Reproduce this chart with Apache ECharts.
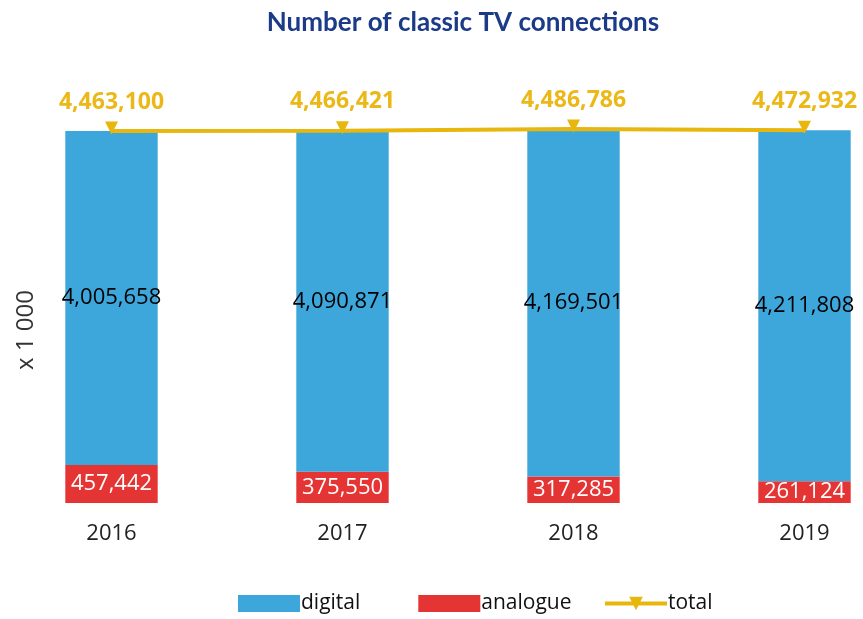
<!DOCTYPE html>
<html>
<head>
<meta charset="utf-8">
<script src="https://cdn.jsdelivr.net/npm/echarts@6/dist/echarts.min.js"></script>
<style>
  html, body { margin: 0; padding: 0; background: #fff; }
  #chart { width: 863px; height: 619px; }
</style>
</head>
<body>
<div id="chart"></div>
<script>
const years = ['2016', '2017', '2018', '2019'];
const digital = [4005658, 4090871, 4169501, 4211808];
const analogue = [457442, 375550, 317285, 261124];
const total = [4463100, 4466421, 4486786, 4472932];

const fmt = v => v.toLocaleString('en-US');
const font = '"Open Sans", "Noto Sans", sans-serif';
const legendText = {fontSize: 21, color: '#111', fontFamily: font, padding: [0, 0, 0, -4]};

let chart = echarts.init(document.getElementById('chart'));
chart.setOption({
  animation: false,
  title: {
    text: 'Number of classic TV connections',
    left: 458,
    textAlign: 'center',
    top: 5,
    textStyle: {color: '#1B3A87', fontSize: 26, fontWeight: 'bold', fontFamily: 'Lato, sans-serif'}
  },
  graphic: [{
    type: 'text',
    left: 14,
    top: 290,
    rotation: Math.PI / 2,
    style: {text: 'x 1 000', fill: '#333', font: '24px ' + font}
  }],
  legend: [{
    bottom: 0,
    left: 233,
    itemWidth: 62,
    itemHeight: 17,
    itemGap: 58,
    textStyle: legendText,
    data: [
      {name: 'digital', icon: 'rect'},
      {name: 'analogue', icon: 'rect'}
    ]
  }, {
    bottom: 0,
    left: 598,
    itemWidth: 62,
    itemHeight: 17,
    textStyle: legendText,
    data: [{name: 'total', lineStyle: {width: 4}}]
  }],
  grid: {left: -4, width: 924, top: 103, bottom: 116, outerBoundsMode: 'none'},
  xAxis: {
    type: 'category',
    data: years,
    axisLine: {show: false},
    axisTick: {show: false},
    axisLabel: {fontSize: 22, color: '#222', margin: 20, fontFamily: font}
  },
  yAxis: {
    type: 'value',
    min: 0,
    max: 4800000,
    show: false
  },
  series: [
    {
      name: 'analogue',
      type: 'bar',
      stack: 'tv',
      barWidth: '40%',
      data: analogue,
      itemStyle: {color: '#E43434'},
      label: {show: true, position: 'inside', formatter: p => fmt(p.value), color: '#fff', fontSize: 22, fontFamily: font}
    },
    {
      name: 'digital',
      type: 'bar',
      stack: 'tv',
      data: digital,
      itemStyle: {color: '#3DA6DB'},
      label: {show: true, position: 'inside', formatter: p => fmt(p.value), color: '#000', fontSize: 22, fontFamily: font}
    },
    {
      name: 'total',
      type: 'line',
      data: total,
      symbol: 'triangle',
      symbolRotate: 180,
      symbolSize: 13,
      symbolOffset: [0, -3],
      lineStyle: {color: '#E8B70E', width: 4},
      itemStyle: {color: '#E8B70E'},
      label: {show: true, position: 'top', distance: 8, formatter: p => fmt(p.value), color: '#EBB818', fontSize: 23, fontWeight: 'bold', fontFamily: font}
    }
  ]
});
</script>
</body>
</html>
